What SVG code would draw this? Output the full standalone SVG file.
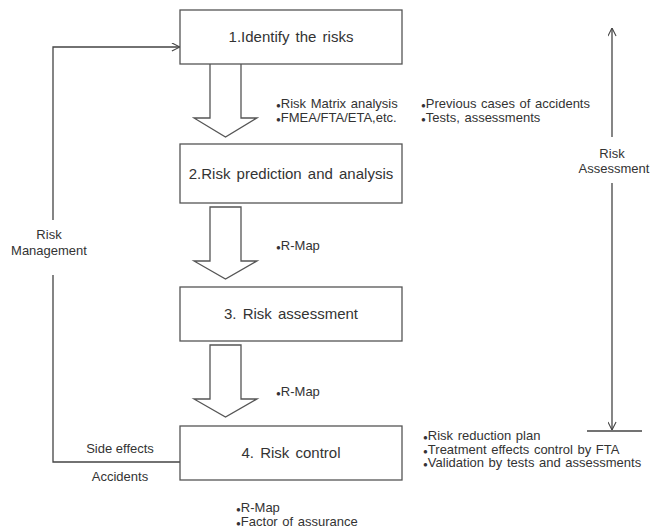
<svg xmlns="http://www.w3.org/2000/svg" width="656" height="528" viewBox="0 0 656 528">
<defs>
<marker id="chev" viewBox="0 0 10 10" refX="10" refY="5" markerWidth="9" markerHeight="9" markerUnits="userSpaceOnUse" orient="auto">
<path d="M1,0.5 L10,5 L1,9.5" fill="none" stroke="#444" stroke-width="1.2"/>
</marker>
</defs>
<style>
.box{fill:#fff;stroke:#555;stroke-width:1.3}
.blk{fill:#fff;stroke:#555;stroke-width:1.3;stroke-linejoin:miter}
.ln{fill:none;stroke:#444;stroke-width:1.3}
.t{font-family:"Liberation Sans",Arial,sans-serif;fill:#333}
.tb{font-size:15px;text-anchor:middle;word-spacing:2px}
.ts{font-size:13px;word-spacing:1px}
.tc{font-size:13px;text-anchor:middle}
.b{font-size:8px}
</style>
<rect width="656" height="528" fill="#fff"/>
<g id="connectors">
<path class="ln" d="M53,220 V47 H180" marker-end="url(#chev)"/>
<path class="ln" d="M53,275 V462 H180"/>
<path class="ln" d="M612,137 V28" marker-end="url(#chev)"/>
<path class="ln" d="M612,183 V430" marker-end="url(#chev)"/>
<path class="ln" d="M587,431 H642"/>
<path id="arrow1" class="blk" d="M210,64 V118 H194 L225.5,137 L257,118 H241 V64"/>
<path id="arrow2" class="blk" d="M210,207 H241 V261 H257 L225.5,279 L194,261 H210 Z"/>
<path id="arrow3" class="blk" d="M210,345 H241 V399 H257 L225.5,417 L194,399 H210 Z"/>
</g>
<g id="node1">
<rect class="box" x="180" y="10" width="222" height="54"/>
<text class="t tb" x="291" y="42">1.Identify the risks</text>
</g>
<g id="node2">
<rect class="box" x="180" y="144" width="222" height="59"/>
<text class="t tb" x="291" y="179">2.Risk prediction and analysis</text>
</g>
<g id="node3">
<rect class="box" x="180" y="287" width="222" height="54"/>
<text class="t tb" x="291" y="319">3. Risk assessment</text>
</g>
<g id="node4">
<rect class="box" x="180" y="426" width="222" height="54"/>
<text class="t tb" x="291" y="458">4. Risk control</text>
</g>
<g id="labels">
<text class="t ts" x="276" y="108"><tspan class="b">●</tspan>Risk Matrix analysis</text>
<text class="t ts" x="276" y="122"><tspan class="b">●</tspan>FMEA/FTA/ETA,etc.</text>
<text class="t ts" x="421" y="108"><tspan class="b">●</tspan>Previous cases of accidents</text>
<text class="t ts" x="421" y="122"><tspan class="b">●</tspan>Tests, assessments</text>
<text class="t ts" x="276" y="250"><tspan class="b">●</tspan>R-Map</text>
<text class="t ts" x="276" y="396"><tspan class="b">●</tspan>R-Map</text>
<text class="t ts" x="423" y="440"><tspan class="b">●</tspan>Risk reduction plan</text>
<text class="t ts" x="423" y="453.5"><tspan class="b">●</tspan>Treatment effects control by FTA</text>
<text class="t ts" x="423" y="467"><tspan class="b">●</tspan>Validation by tests and assessments</text>
<text class="t ts" x="236" y="512"><tspan class="b">●</tspan>R-Map</text>
<text class="t ts" x="236" y="526"><tspan class="b">●</tspan>Factor of assurance</text>
<text class="t tc" x="49" y="239">Risk</text>
<text class="t tc" x="49" y="255">Management</text>
<text class="t tc" x="612" y="158">Risk</text>
<text class="t tc" x="614" y="173">Assessment</text>
<text class="t tc" x="120" y="453">Side effects</text>
<text class="t tc" x="120" y="481">Accidents</text>
</g>
</svg>
